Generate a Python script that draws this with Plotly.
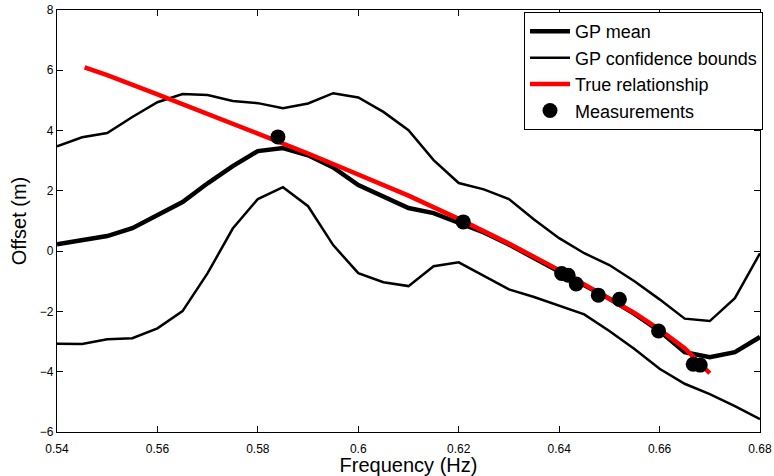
import plotly.graph_objects as go

# Grid of the GP curves (Hz)
freq = [0.540, 0.545, 0.550, 0.555, 0.560, 0.565, 0.570, 0.575, 0.580, 0.585,
        0.590, 0.595, 0.600, 0.605, 0.610, 0.615, 0.620, 0.625, 0.630, 0.635,
        0.640, 0.645, 0.650, 0.655, 0.660, 0.665, 0.670, 0.675, 0.680]

gp_mean = [0.23, 0.36, 0.50, 0.76, 1.20, 1.63, 2.25, 2.82, 3.32, 3.42,
           3.18, 2.78, 2.19, 1.80, 1.43, 1.26, 0.95, 0.62, 0.22, -0.22,
           -0.68, -1.12, -1.58, -2.08, -2.65, -3.35, -3.52, -3.35, -2.85]

gp_upper = [3.48, 3.78, 3.92, 4.45, 4.94, 5.21, 5.18, 4.98, 4.91, 4.74,
            4.90, 5.24, 5.10, 4.62, 4.01, 3.02, 2.26, 2.05, 1.73, 1.05,
            0.43, -0.07, -0.46, -1.00, -1.60, -2.24, -2.32, -1.56, -0.07]

gp_lower = [-3.07, -3.08, -2.92, -2.89, -2.56, -1.99, -0.73, 0.75, 1.73, 2.12,
            1.49, 0.20, -0.73, -1.03, -1.16, -0.50, -0.37, -0.82, -1.27, -1.52,
            -1.82, -2.10, -2.65, -3.25, -3.90, -4.40, -4.74, -5.14, -5.57]

true_freq = [0.5455, 0.55, 0.56, 0.57, 0.58, 0.59, 0.60, 0.61, 0.62, 0.63,
             0.64, 0.65, 0.655, 0.66, 0.665, 0.67]
true_offset = [6.10, 5.84, 5.20, 4.56, 3.90, 3.24, 2.56, 1.84, 1.07, 0.25,
               -0.63, -1.55, -2.05, -2.60, -3.22, -4.05]

meas_freq = [0.5840, 0.6209, 0.6405, 0.6418, 0.6434, 0.6478, 0.6520, 0.6598, 0.6667, 0.6681]
meas_offset = [3.79, 0.97, -0.74, -0.80, -1.09, -1.46, -1.60, -2.65, -3.75, -3.78]

x_ticks = [0.54, 0.56, 0.58, 0.60, 0.62, 0.64, 0.66, 0.68]
x_tick_text = ["0.54", "0.56", "0.58", "0.6", "0.62", "0.64", "0.66", "0.68"]
y_ticks = [-6, -4, -2, 0, 2, 4, 6, 8]

FONT = "Liberation Sans, Arial, sans-serif"

fig = go.Figure()
fig.add_trace(go.Scatter(x=freq, y=gp_mean, mode="lines", name="GP mean",
                         line=dict(color="black", width=4.5)))
fig.add_trace(go.Scatter(x=freq, y=gp_upper, mode="lines", name="GP confidence bounds",
                         line=dict(color="black", width=2.5)))
fig.add_trace(go.Scatter(x=freq, y=gp_lower, mode="lines", name="GP confidence bounds",
                         showlegend=False, line=dict(color="black", width=2.5)))
fig.add_trace(go.Scatter(x=true_freq, y=true_offset, mode="lines", name="True relationship",
                         line=dict(color="#ff0000", width=4.5)))
fig.add_trace(go.Scatter(x=meas_freq, y=meas_offset, mode="markers", name="Measurements",
                         marker=dict(color="black", size=15)))

axis_common = dict(showline=True, linecolor="black", linewidth=1.3, mirror="ticks",
                   ticks="inside", ticklen=6, tickwidth=1, tickcolor="black",
                   showgrid=False, zeroline=False, automargin=False,
                   tickfont=dict(family=FONT, size=12, color="black"))

fig.update_layout(
    width=774, height=476,
    margin=dict(l=57, r=14, t=10, b=44),
    paper_bgcolor="white", plot_bgcolor="white",
    font=dict(family=FONT, color="black"),
    showlegend=True,
    legend=dict(x=0.6643, y=0.995, xanchor="left", yanchor="top",
                bgcolor="white", bordercolor="black", borderwidth=1,
                font=dict(family=FONT, size=18, color="black"),
                itemwidth=40, tracegroupgap=0),
    xaxis=dict(range=[0.54, 0.68], tickvals=x_ticks, ticktext=x_tick_text,
               ticklabelstandoff=5,
               title=dict(text="Frequency (Hz)", font=dict(family=FONT, size=20), standoff=0),
               **axis_common),
    yaxis=dict(range=[-6, 8], tickvals=y_ticks,
               title=dict(text="Offset (m)", font=dict(family=FONT, size=20), standoff=7),
               **axis_common),
)

fig.write_html("out.html",
               config={"displayModeBar": False},
               post_script="document.body.style.margin='0px';document.body.style.overflow='hidden';")
